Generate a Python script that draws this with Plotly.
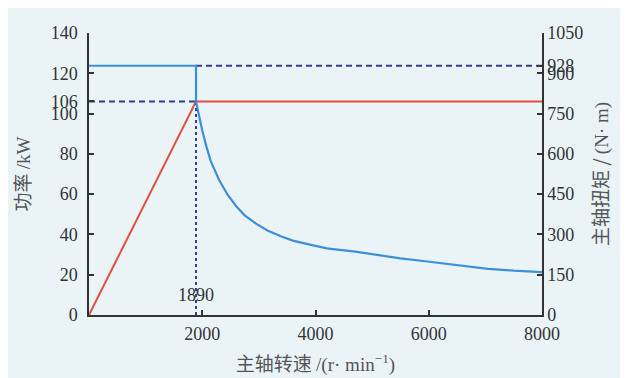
import plotly.graph_objects as go

# data
speed_power = [0, 1890, 8000]
power_kw = [0, 106, 106]

speed_torque = [0, 1890, 1890, 1950, 2000, 2075, 2150, 2300, 2450, 2600, 2750, 2950, 3150, 3400,
                3600, 3900, 4200, 4700, 5100, 5500, 5900, 6500, 7050, 7500, 8000]
torque_nm = [928, 928, 795, 735, 687, 626, 573, 502, 447, 405, 371, 340, 315, 292,
             277, 262, 248, 236, 223, 211, 201, 186, 172, 165, 160]

base_speed = 1890
rated_power = 106
max_torque = 928
max_speed = 8000

x_ticks = [2000, 4000, 6000, 8000]
y1_ticks = [0, 20, 40, 60, 80, 100, 106, 120, 140]
y2_ticks = [0, 150, 300, 450, 600, 750, 900, 928, 1050]

navy = "#343c8e"
blue = "#3d8fd8"
red = "#e2503d"
bg = "#eaf4f7"
txt = "#333333"

fig = go.Figure()

# dashed guide lines
fig.add_trace(go.Scatter(x=[0, base_speed], y=[rated_power, rated_power], mode="lines",
                         line=dict(color=navy, width=2, dash="6px,4px"), yaxis="y", hoverinfo="skip"))
fig.add_trace(go.Scatter(x=[base_speed, base_speed], y=[0, max_torque], mode="lines",
                         line=dict(color=navy, width=2, dash="3px,3px"), yaxis="y2", hoverinfo="skip"))
fig.add_trace(go.Scatter(x=[base_speed, max_speed], y=[max_torque, max_torque], mode="lines",
                         line=dict(color=navy, width=2, dash="6px,4px"), yaxis="y2", hoverinfo="skip"))

# power (left)
fig.add_trace(go.Scatter(x=speed_power, y=power_kw, mode="lines",
                         line=dict(color=red, width=2), yaxis="y"))
# torque (right)
fig.add_trace(go.Scatter(x=speed_torque, y=torque_nm, mode="lines",
                         line=dict(color=blue, width=2.2), yaxis="y2"))

fig.add_annotation(x=base_speed, y=10, yref="y", text="1890", showarrow=False,
                   font=dict(family="Liberation Serif", size=18, color=txt), xanchor="center")

tickfont = dict(family="Liberation Serif", size=18, color=txt)
titlefont = dict(family="Noto Sans CJK SC", size=19, color="#555555")
serif = "<span style='font-family:Liberation Serif'>{}</span>"

common = dict(ticks="inside", ticklen=5, tickcolor="#333", tickwidth=1.5,
              showline=True, linecolor="#333", linewidth=1.5, showgrid=False, zeroline=False,
              tickfont=tickfont, automargin=False)

fig.update_layout(
    width=620, height=370,
    margin=dict(l=81, r=86, t=25, b=63),
    paper_bgcolor=bg, plot_bgcolor=bg,
    showlegend=False,
    xaxis=dict(range=[0, max_speed], tickvals=x_ticks, ticktext=[str(v) for v in x_ticks],
               ticklabelstandoff=2,
               title=dict(text="主轴转速 " + serif.format("/(r· min<sup>−1</sup>)"),
                          font=titlefont, standoff=14), **common),
    yaxis=dict(range=[0, 140], tickvals=y1_ticks, ticktext=[str(v) for v in y1_ticks],
               ticklabelstandoff=6,
               title=dict(text="功率 " + serif.format("/kW"), font=titlefont, standoff=18), **common),
    yaxis2=dict(range=[0, 1050], tickvals=y2_ticks, ticktext=[str(v) for v in y2_ticks],
                overlaying="y", side="right",
                title=dict(text="主轴扭矩 / " + serif.format("(N· m)"), font=titlefont, standoff=12),
                **common),
)

fig.write_html("out.html")
